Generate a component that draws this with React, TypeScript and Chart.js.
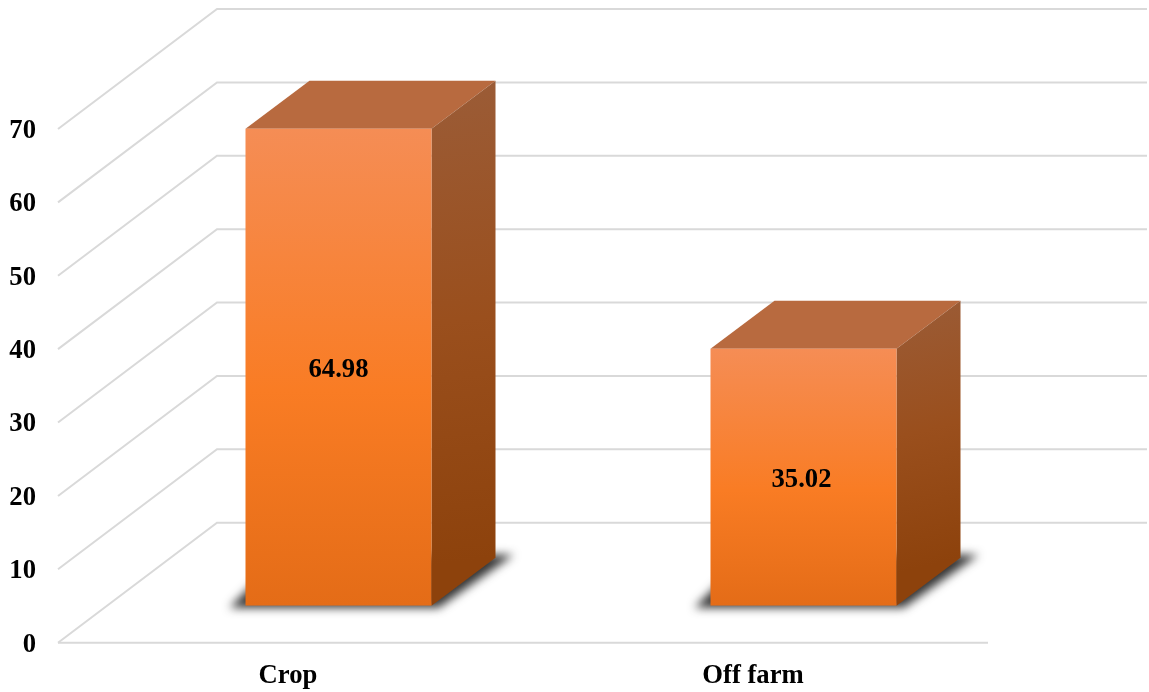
import React, { useEffect, useRef } from "react";
import { Chart, registerables } from "chart.js";

Chart.register(...registerables);

const categories = ["Crop", "Off farm"];
const shares = [64.98, 35.02];
const axisMax = 70;
const axisStep = 10;

const FONT = { family: '"Liberation Serif", serif', size: 26.67, weight: "bold" as const };
const GRID_COLOR = "#d9d9d9";

// Projection of the box: wall depth, and the bar's inset and depth on the floor.
const WALL = { dx: 159, dy: -120 };
const INSET = { dx: 48, dy: -37 };
const BAR_DEPTH = { dx: 64, dy: -48 };
// Horizontal nudge of each value label on its bar.
const LABEL_SHIFT = [0, -2];

const box3d = {
  id: "box3d",
  beforeDatasetsDraw(chart: any) {
    const { ctx, scales, chartArea } = chart;
    const y = scales.y;
    ctx.save();
    // Gridlines along the side wall, then across the back wall.
    ctx.strokeStyle = GRID_COLOR;
    ctx.lineWidth = 2;
    for (const tick of y.ticks) {
      const py = y.getPixelForValue(tick.value);
      ctx.beginPath();
      ctx.moveTo(chartArea.left, py);
      ctx.lineTo(chartArea.left + WALL.dx, py + WALL.dy);
      ctx.lineTo(chartArea.right + WALL.dx, py + WALL.dy);
      ctx.stroke();
    }
    // Front edge of the floor.
    ctx.beginPath();
    ctx.moveTo(chartArea.left, chartArea.bottom);
    ctx.lineTo(chartArea.right, chartArea.bottom);
    ctx.stroke();

    const bars = chart.getDatasetMeta(0).data;
    bars.forEach((bar: any) => {
      const half = bar.width / 2;
      const left = bar.x - half + INSET.dx;
      const right = bar.x + half + INSET.dx;
      const top = bar.y + INSET.dy;
      const base = bar.base + INSET.dy;
      const backRight = right + BAR_DEPTH.dx;
      const backTop = top + BAR_DEPTH.dy;
      const backBase = base + BAR_DEPTH.dy;

      // Soft shadow on the floor.
      ctx.save();
      ctx.filter = "blur(5px)";
      ctx.fillStyle = "rgba(30,30,30,0.9)";
      ctx.beginPath();
      ctx.moveTo(left - 16, base + 2);
      ctx.lineTo(right + 7, base + 2);
      ctx.lineTo(backRight + 18, backBase - 3);
      ctx.lineTo(right, backBase - 3);
      ctx.lineTo(left + 10, base - 24);
      ctx.closePath();
      ctx.fill();
      ctx.restore();

      // Top face.
      ctx.fillStyle = "#b86a3f";
      ctx.beginPath();
      ctx.moveTo(left, top);
      ctx.lineTo(right, top);
      ctx.lineTo(backRight, backTop);
      ctx.lineTo(left + BAR_DEPTH.dx, backTop);
      ctx.closePath();
      ctx.fill();

      // Right face.
      const side = ctx.createLinearGradient(right, backTop, backRight, backBase);
      side.addColorStop(0, "#9b5c37");
      side.addColorStop(0.5, "#9a4f1d");
      side.addColorStop(1, "#8d420c");
      ctx.fillStyle = side;
      ctx.beginPath();
      ctx.moveTo(right, top);
      ctx.lineTo(backRight, backTop);
      ctx.lineTo(backRight, backBase);
      ctx.lineTo(right, base);
      ctx.closePath();
      ctx.fill();
    });
    ctx.restore();

    // The front faces are the chart's own bars, moved onto the floor.
    ctx.save();
    ctx.translate(INSET.dx, INSET.dy);
  },
  afterDatasetsDraw(chart: any) {
    const { ctx } = chart;
    ctx.restore();
    ctx.save();
    ctx.fillStyle = "#000";
    ctx.font = `${FONT.weight} ${FONT.size}px ${FONT.family}`;
    ctx.textAlign = "center";
    ctx.textBaseline = "middle";
    chart.getDatasetMeta(0).data.forEach((bar: any, i: number) => {
      ctx.fillText(
        shares[i].toFixed(2),
        bar.x + INSET.dx + LABEL_SHIFT[i],
        (bar.y + bar.base) / 2 + INSET.dy + 3
      );
    });
    ctx.restore();
  },
};

function frontFill(context: any) {
  const { chart, parsed } = context;
  const y = chart.scales.y;
  if (!parsed || !y) return "#f97c24";
  const top = y.getPixelForValue(parsed.y);
  const base = y.getPixelForValue(0);
  if (!Number.isFinite(top) || !Number.isFinite(base)) return "#f97c24";
  const g = chart.ctx.createLinearGradient(0, top, 0, base);
  g.addColorStop(0, "#f58d55");
  g.addColorStop(0.55, "#f97c24");
  g.addColorStop(1, "#e46c17");
  return g;
}

export default function App() {
  const ref = useRef<HTMLCanvasElement>(null);

  useEffect(() => {
    const chart = new Chart(ref.current as HTMLCanvasElement, {
      type: "bar",
      data: {
        labels: categories,
        datasets: [
          {
            data: shares,
            backgroundColor: frontFill,
            barPercentage: 0.4,
            categoryPercentage: 1,
          },
        ],
      },
      plugins: [box3d],
      options: {
        responsive: false,
        animation: false,
        layout: { padding: { top: 129, right: 161, left: 0, bottom: 0 } },
        plugins: { legend: { display: false }, tooltip: { enabled: false } },
        scales: {
          x: {
            grid: { display: false },
            border: { display: false },
            ticks: { color: "#000", font: FONT, padding: 9, labelOffset: -2.5, maxRotation: 0 },
            afterFit(scale: any) {
              scale.height = 49.3;
            },
          },
          y: {
            min: 0,
            max: axisMax,
            grid: { display: false, drawTicks: false },
            border: { display: false },
            ticks: { stepSize: axisStep, color: "#000", font: FONT, padding: 22, labelOffset: 2 },
            afterFit(scale: any) {
              scale.width = 58;
            },
          },
        },
      },
    } as any);
    return () => chart.destroy();
  }, []);

  return (
    <canvas
      ref={ref}
      width={1149}
      height={692}
      style={{ position: "fixed", left: 0, top: 0, display: "block", background: "#fff" }}
    />
  );
}
